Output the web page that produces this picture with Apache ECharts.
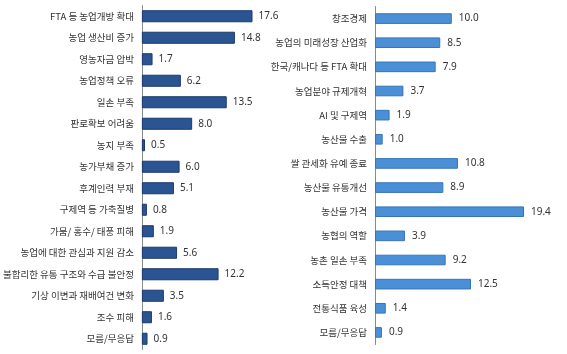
<!DOCTYPE html>
<html><head><meta charset="utf-8">
<script src="https://cdn.jsdelivr.net/npm/echarts@6/dist/echarts.min.js"></script>
<style>html,body{margin:0;padding:0;background:#fff}#c{width:567px;height:354px}</style>
</head><body><div id="c"></div>
<script>
const leftCategories = ['FTA 등 농업개방 확대','농업 생산비 증가','영농자금 압박','농업정책 오류','일손 부족','판로확보 어려움','농지 부족','농가부채 증가','후계인력 부재','구제역 등 가축질병','가뭄/ 홍수/ 태풍 피해','농업에 대한 관심과 지원 감소','불합리한 유통 구조와 수급 불안정','기상 이변과 재배여건 변화','조수 피해','모름/무응답'];
const leftValues = [17.6,14.8,1.7,6.2,13.5,8.0,0.5,6.0,5.1,0.8,1.9,5.6,12.2,3.5,1.6,0.9];
const rightCategories = ['창조경제','농업의 미래성장 산업화','한국/캐나다 등 FTA 확대','농업분야 규제개혁','AI 및 구제역','농산물 수출','쌀 관세화 유예 종료','농산물 유통개선','농산물 가격','농협의 역할','농촌 일손 부족','소득안정 대책','전통식품 육성','모름/무응답'];
const rightValues = [10.0,8.5,7.9,3.7,1.9,1.0,10.8,8.9,19.4,3.9,9.2,12.5,1.4,0.9];

const chart = echarts.init(document.getElementById('c'), null, {renderer:'canvas'});
const catFont = {fontFamily:'Noto Sans CJK KR', fontSize:9.5, color:'#333'};
const valFont = {fontFamily:'Noto Sans', fontSize:10, color:'#333'};
function yAx(gi, cats){
  return {type:'category', gridIndex:gi, data:cats, inverse:true,
    axisLine:{show:true, lineStyle:{color:'#8a8a8a', width:1}},
    axisTick:{show:false}, splitLine:{show:false},
    axisLabel:Object.assign({margin:8}, catFont)};
}
function xAx(gi, max){
  return {type:'value', gridIndex:gi, min:0, max:max, show:false};
}
chart.setOption({
  animation:false,
  grid:[
    {left:137, top:5.5, width:130.6, height:344},
    {left:375, top:6.5, width:194, height:338}
  ],
  xAxis:[xAx(0,20), xAx(1,25)],
  yAxis:[yAx(0,leftCategories), yAx(1,rightCategories)],
  series:[
    {type:'bar', xAxisIndex:0, yAxisIndex:0, data:leftValues, barWidth:'56%',
      itemStyle:{color:'#2b5592', borderColor:'#1b3a6c', borderWidth:1},
      label:{show:true, position:'right', distance:6, formatter:p=>p.value.toFixed(1), ...valFont}},
    {type:'bar', xAxisIndex:1, yAxisIndex:1, data:rightValues, barWidth:'44%',
      itemStyle:{color:'#4b90d6', borderColor:'#3774b6', borderWidth:1},
      label:{show:true, position:'right', distance:7, formatter:p=>p.value.toFixed(1), ...valFont}}
  ]
});
</script></body></html>
